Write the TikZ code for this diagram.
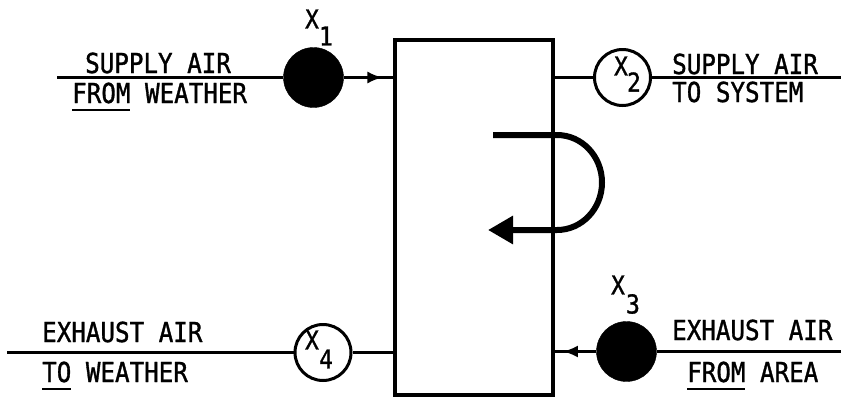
\documentclass[tikz,border=0pt]{standalone}
\usepackage{fontspec}
\usetikzlibrary{arrows.meta,decorations.markings}
\newfontfamily\lett[FakeStretch=0.88,FakeBold=1.2]{DejaVu Sans Mono}
\newcommand\ulw[1]{\setbox0\hbox{#1}\rlap{\rule[-8pt]{\wd0}{2pt}}#1}
\tikzset{
  lbl/.style={inner sep=0pt, anchor=base west, font=\lett\fontsize{27.5}{30}\selectfont},
  xl/.style={inner sep=0pt, font=\lett\fontsize{26}{28}\selectfont},
  thin/.style={line width=2.5pt},
  fcirc/.style={circle, fill=black, draw=black, minimum size=60pt, inner sep=0pt},
  ocirc/.style={circle, draw=black, line width=3pt, minimum size=56pt, inner sep=0pt},
  midarrow/.style={postaction={decorate}, decoration={markings, mark=at position #1 with {\arrow{Latex[length=15pt,width=12pt]}}}}
}
\begin{document}
\begin{tikzpicture}[x=1pt,y=-1pt]
\useasboundingbox (0,0) rectangle (841,402);
\fill[white] (0,0) rectangle (841,402);
% main box
\node[draw, line width=3.2pt, minimum width=158pt, minimum height=355pt, inner sep=0pt] (box) at (474,217.5) {};
% circles
\node[fcirc] (c1) at (313.5,77.5) {};
\node[ocirc] (c2) at (622.5,77.5) {};
\node[fcirc] (c3) at (626.5,351.5) {};
\node[ocirc] (c4) at (323,352.5) {};
% free ends
\coordinate (a1) at (57,77.5);
\coordinate (a2) at (841,77.5);
\coordinate (a3) at (841,351.5);
\coordinate (a4) at (7,352.5);
% connectors
\draw[thin] (a1) -- (c1.west);
\draw[thin, midarrow=0.78] (c1.east) -- (c1.east -| box.west);
\draw[thin] (c2.west -| box.east) -- (c2.west);
\draw[thin] (c2.east) -- (a2);
\draw[thin] (a4) -- (c4.west);
\draw[thin] (c4.east) -- (c4.east -| box.west);
\draw[thin] (c3.east) -- (a3);
\draw[thin, midarrow=0.8] (c3.west) -- (c3.west -| box.east);
% recirculation arrow
\draw[line width=6pt, -{Triangle[length=25pt,width=27pt]}]
  (493,135) -- (557,135) .. controls (581.9,135) and (602,156.3) .. (602,182.5)
  .. controls (602,208.7) and (581.9,230) .. (557,230) -- (488,230);
% labels X
\node[xl] (x1) at (312,19) {X};
\node[xl] (x1s) at (326,36) {1};
\node[xl] (x2) at (621,66) {X};
\node[xl] (x2s) at (634,82) {2};
\node[xl] (x3) at (618,285) {X};
\node[xl] (x3s) at (633,304) {3};
\node[xl] (x4) at (312,340) {X};
\node[xl] (x4s) at (326,359) {4};
% texts
\node[lbl] (t1) at (85,73) {SUPPLY AIR};
\node[lbl] (t2) at (72,103) {\ulw{FROM} WEATHER};
\node[lbl] (t3) at (672,74) {SUPPLY AIR};
\node[lbl] (t4) at (672,102) {TO SYSTEM};
\node[lbl] (t5) at (42,342) {EXHAUST AIR};
\node[lbl] (t6) at (42,382) {\ulw{TO} WEATHER};
\node[lbl] (t7) at (672,340) {EXHAUST AIR};
\node[lbl] (t8) at (687,382) {\ulw{FROM} AREA};
\end{tikzpicture}
\end{document}
